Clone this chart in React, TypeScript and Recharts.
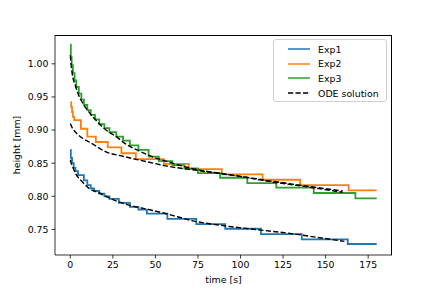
import { LineChart, Line, XAxis, YAxis } from 'recharts';

const exp1Time = [0, 0.3, 1, 2, 3, 4.5, 8, 10, 12, 14, 17, 20, 23, 28.5, 35, 40, 45, 57, 74, 91, 112, 136, 163, 180];
const exp1Height = [0.870, 0.858, 0.850, 0.843, 0.838, 0.832, 0.824, 0.817, 0.812, 0.808, 0.804, 0.800, 0.796, 0.790, 0.784, 0.780, 0.774, 0.766, 0.758, 0.751, 0.743, 0.735, 0.728, 0.728];

const exp2Time = [0, 0.5, 1, 1.5, 2.3, 6.2, 10, 15, 22, 30, 38.5, 55, 69.6, 89, 113, 135, 163.5, 180];
const exp2Height = [0.942, 0.935, 0.927, 0.920, 0.915, 0.902, 0.890, 0.882, 0.874, 0.865, 0.856, 0.849, 0.841, 0.833, 0.825, 0.817, 0.809, 0.809];

const exp3Time = [0, 0.3, 0.8, 1.5, 2.5, 3.5, 5, 6.5, 8, 10, 12, 14.5, 17, 20, 23, 27, 31, 35, 40, 46, 52, 60, 67, 75, 88, 104, 121, 143, 167.5, 180];
const exp3Height = [1.029, 1.010, 0.998, 0.986, 0.975, 0.965, 0.955, 0.946, 0.938, 0.930, 0.923, 0.916, 0.909, 0.903, 0.897, 0.890, 0.884, 0.877, 0.870, 0.860, 0.853, 0.847, 0.842, 0.835, 0.828, 0.820, 0.813, 0.805, 0.797, 0.797];

// ODE solutions
const ode1Time = [0, 0.5, 1, 3, 7, 11, 17, 25, 34, 46, 56, 72, 92, 112, 129, 145, 161];
const ode1Height = [0.855, 0.850, 0.847, 0.835, 0.822, 0.812, 0.805, 0.795, 0.787, 0.780, 0.774, 0.763, 0.755, 0.749, 0.744, 0.738, 0.732];

const ode2Time = [0, 1, 3, 7, 11, 15, 21, 30, 40, 47, 56, 75, 100, 118, 140, 160];
const ode2Height = [0.910, 0.904, 0.897, 0.888, 0.882, 0.876, 0.867, 0.861, 0.855, 0.851, 0.846, 0.839, 0.830, 0.823, 0.815, 0.808];

const ode3Time = [0, 0.5, 1, 3, 5, 7, 11, 15, 21, 27, 32, 40, 47, 60, 75, 90, 100, 118, 140, 160];
const ode3Height = [1.013, 0.998, 0.987, 0.967, 0.952, 0.942, 0.927, 0.915, 0.900, 0.890, 0.880, 0.869, 0.861, 0.850, 0.840, 0.834, 0.830, 0.822, 0.814, 0.806];

const xTicks = [0, 25, 50, 75, 100, 125, 150, 175];
const yTicks = [0.75, 0.8, 0.85, 0.9, 0.95, 1.0];

const LEGEND = [
  { name: 'Exp1', color: '#1f77b4', dash: undefined },
  { name: 'Exp2', color: '#ff7f0e', dash: undefined },
  { name: 'Exp3', color: '#2ca02c', dash: undefined },
  { name: 'ODE solution', color: '#000000', dash: '5.2 2.3' },
];

const toPoints = (t: number[], h: number[]) => t.map((x, i) => ({ t: x, h: h[i] }));

const exp1 = toPoints(exp1Time, exp1Height);
const exp2 = toPoints(exp2Time, exp2Height);
const exp3 = toPoints(exp3Time, exp3Height);
const ode1 = toPoints(ode1Time, ode1Height);
const ode2 = toPoints(ode2Time, ode2Height);
const ode3 = toPoints(ode3Time, ode3Height);

const FONT = 'DejaVu Sans';
const FS = 9.4;
const tickStyle = { fontSize: FS, fill: '#000', fontFamily: FONT };

const LegendBox = () => (
  <div
    style={{
      position: 'absolute',
      left: 273,
      top: 39,
      border: '1px solid #d0d0d0',
      borderRadius: 3,
      background: 'rgba(255,255,255,0.8)',
      fontFamily: FONT,
      fontSize: FS,
      padding: '2px 0',
      boxSizing: 'border-box',
      width: 114,
      height: 63,
    }}
  >
    {LEGEND.map((item) => (
      <div key={item.name} style={{ display: 'flex', alignItems: 'center', height: 14.6, paddingLeft: 14 }}>
        <svg width={22} height={6} style={{ marginRight: 8 }}>
          <line x1={0} y1={3} x2={22} y2={3} stroke={item.color} strokeWidth={1.5} strokeDasharray={item.dash} />
        </svg>
        <span>{item.name}</span>
      </div>
    ))}
  </div>
);

export default function App() {
  return (
    <div style={{ position: 'absolute', left: 0, top: 0, width: 436, height: 291, background: '#fff' }}>
      <LineChart width={436} height={291} margin={{ top: 35, right: 44, bottom: 0, left: 0 }}>
        <XAxis
          type="number"
          dataKey="t"
          domain={[-9, 189]}
          ticks={xTicks}
          allowDataOverflow
          height={36}
          tick={tickStyle}
          tickSize={3.5}
          tickMargin={2.5}
          tickLine={{ stroke: '#000', strokeWidth: 0.8 }}
          axisLine={{ stroke: '#000', strokeWidth: 0.8 }}
          label={({ viewBox }: any) => (
            <text x={viewBox.x + viewBox.width / 2} y={viewBox.y + 28} textAnchor="middle" style={tickStyle}>
              time [s]
            </text>
          )}
        />
        <YAxis
          type="number"
          domain={[0.7114, 1.0435]}
          ticks={yTicks}
          allowDataOverflow
          width={55}
          tick={tickStyle}
          tickSize={3.5}
          tickMargin={3}
          tickFormatter={(v: number) => v.toFixed(2)}
          tickLine={{ stroke: '#000', strokeWidth: 0.8 }}
          axisLine={{ stroke: '#000', strokeWidth: 0.8 }}
          label={({ viewBox }: any) => (
            <text
              x={16}
              y={viewBox.y + viewBox.height / 2}
              textAnchor="middle"
              dominantBaseline="central"
              transform={`rotate(-90 16 ${viewBox.y + viewBox.height / 2})`}
              style={tickStyle}
            >
              height [mm]
            </text>
          )}
        />
        <Line data={exp1} dataKey="h" type="stepAfter" stroke="#1f77b4" strokeWidth={1.8} dot={false} isAnimationActive={false} />
        <Line data={exp2} dataKey="h" type="stepAfter" stroke="#ff7f0e" strokeWidth={1.8} dot={false} isAnimationActive={false} />
        <Line data={exp3} dataKey="h" type="stepAfter" stroke="#2ca02c" strokeWidth={1.8} dot={false} isAnimationActive={false} />
        <Line data={ode1} dataKey="h" type="monotone" stroke="#000" strokeWidth={1.4} strokeDasharray="5.2 2.3" dot={false} isAnimationActive={false} />
        <Line data={ode2} dataKey="h" type="monotone" stroke="#000" strokeWidth={1.4} strokeDasharray="5.2 2.3" dot={false} isAnimationActive={false} />
        <Line data={ode3} dataKey="h" type="monotone" stroke="#000" strokeWidth={1.4} strokeDasharray="5.2 2.3" dot={false} isAnimationActive={false} />
      </LineChart>
      {/* top/right spines of the matplotlib-style frame */}
      <div
        style={{
          position: 'absolute',
          left: 55,
          top: 35,
          width: 337,
          height: 220,
          borderTop: '0.8px solid #000',
          borderRight: '0.8px solid #000',
          boxSizing: 'border-box',
          pointerEvents: 'none',
        }}
      />
      <LegendBox />
    </div>
  );
}
